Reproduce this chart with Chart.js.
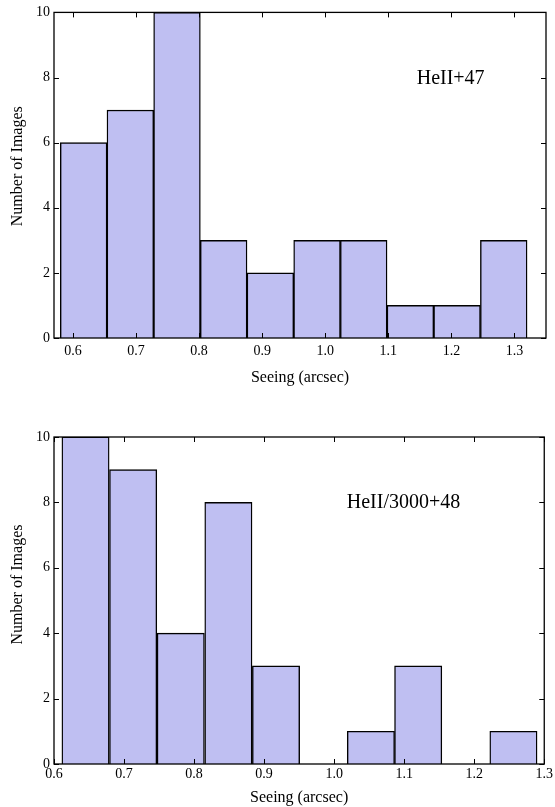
<!DOCTYPE html>
<html>
<head>
<meta charset="utf-8">
<script src="https://cdn.jsdelivr.net/npm/chart.js@4.4.0/dist/chart.umd.min.js"></script>
<style>
  body { margin: 0; background: #fff; width: 555px; height: 807px; position: relative; overflow: hidden; }
  canvas { position: absolute; left: 0; }
</style>
</head>
<body>
<canvas id="topChart" width="555" height="400" style="top:0"></canvas>
<canvas id="bottomChart" width="555" height="387" style="top:420px"></canvas>
<script>
// top panel
const topName = 'HeII+47';
const topEdges = [0.58, 0.654, 0.728, 0.802, 0.876, 0.950, 1.024, 1.098, 1.172, 1.246, 1.320];
const topCounts = [6, 7, 10, 3, 2, 3, 3, 1, 1, 3];
const topXTicks = [0.6, 0.7, 0.8, 0.9, 1.0, 1.1, 1.2, 1.3];

// bottom panel
const bottomName = 'HeII/3000+48';
const bottomEdges = [0.611, 0.679, 0.747, 0.815, 0.883, 0.951, 1.019, 1.086, 1.154, 1.222, 1.290];
const bottomCounts = [10, 9, 4, 8, 3, 0, 1, 3, 0, 1];
const bottomXTicks = [0.6, 0.7, 0.8, 0.9, 1.0, 1.1, 1.2, 1.3];

const yTicks = [0, 2, 4, 6, 8, 10];
const yTitle = 'Number of Images';

Chart.defaults.font.family = "'Liberation Serif', 'Times New Roman', serif";
Chart.defaults.color = '#000';

// box around the plot, inward ticks on all four sides, y title and the panel label
const framePlugin = {
  id: 'frame',
  afterDatasetsDraw(chart, args, opts) {
    const { ctx, chartArea: a, scales: { x, y } } = chart;
    ctx.save();
    ctx.strokeStyle = '#000';
    ctx.lineWidth = 1.3;
    ctx.strokeRect(a.left, a.top, a.right - a.left, a.bottom - a.top);
    ctx.lineWidth = 1;
    ctx.beginPath();
    x.ticks.forEach(t => {
      const px = Math.round(x.getPixelForValue(t.value)) + 0.5;
      ctx.moveTo(px, a.bottom); ctx.lineTo(px, a.bottom - 5);
      ctx.moveTo(px, a.top); ctx.lineTo(px, a.top + 5);
    });
    y.ticks.forEach(t => {
      const py = Math.round(y.getPixelForValue(t.value)) + 0.5;
      ctx.moveTo(a.left, py); ctx.lineTo(a.left + 5, py);
      ctx.moveTo(a.right, py); ctx.lineTo(a.right - 5, py);
    });
    ctx.stroke();
    ctx.fillStyle = '#000';
    ctx.font = "20px 'Liberation Serif', serif";
    ctx.textBaseline = 'alphabetic';
    ctx.fillText(opts.text, x.getPixelForValue(opts.x), y.getPixelForValue(opts.y));
    // y axis title
    ctx.font = "16px 'Liberation Serif', serif";
    ctx.textAlign = 'center';
    ctx.textBaseline = 'middle';
    ctx.translate(17.5, (a.top + a.bottom) / 2 + opts.yTitleShift);
    ctx.rotate(-Math.PI / 2);
    ctx.fillText(yTitle, 0, 0);
    ctx.restore();
  }
};

function histogram(id, edges, counts, xTicks, xRange, name, lay) {
  const points = counts.map((c, i) => ({ x: (edges[i] + edges[i + 1]) / 2, y: c }));
  return new Chart(document.getElementById(id), {
    type: 'bar',
    data: {
      datasets: [{
        data: points,
        backgroundColor: 'rgb(191,191,242)',
        borderColor: '#000',
        borderWidth: 1.4,
        borderSkipped: 'start',
        barPercentage: 1,
        categoryPercentage: 1
      }]
    },
    plugins: [framePlugin],
    options: {
      responsive: false,
      animation: false,
      devicePixelRatio: 1,
      layout: { padding: lay.padding },
      plugins: {
        legend: { display: false },
        tooltip: { enabled: false },
        frame: { text: name, x: lay.labelX, y: lay.labelY, yTitleShift: lay.yTitleShift }
      },
      scales: {
        x: {
          type: 'linear',
          offset: false,
          min: xRange[0],
          max: xRange[1],
          grid: { display: false, drawTicks: false },
          border: { display: false },
          afterBuildTicks: s => { s.ticks = xTicks.map(v => ({ value: v })); },
          afterFit: s => { s.height = lay.xHeight; },
          ticks: { font: { size: 14 }, padding: lay.xPad, callback: v => v.toFixed(1) },
          title: { display: true, text: 'Seeing (arcsec)', font: { size: 16 }, padding: 0 }
        },
        y: {
          min: 0,
          max: 10,
          grid: { display: false, drawTicks: false },
          border: { display: false },
          afterBuildTicks: s => { s.ticks = yTicks.map(v => ({ value: v })); },
          afterFit: s => { s.width = 50; },
          ticks: { font: { size: 14 }, padding: 4, callback: v => String(v) }
        }
      }
    }
  });
}

histogram('topChart', topEdges, topCounts, topXTicks, [0.57, 1.35], topName, {
  padding: { top: 12, right: 9, left: 4, bottom: 13 },
  xHeight: 49, xPad: 5, labelX: 1.145, labelY: 7.81, yTitleShift: -9
});

histogram('bottomChart', bottomEdges, bottomCounts, bottomXTicks, [0.6, 1.3], bottomName, {
  padding: { top: 17, right: 10, left: 4, bottom: 0 },
  xHeight: 43, xPad: 2, labelX: 1.018, labelY: 7.82, yTitleShift: -16
});
</script>
</body>
</html>
